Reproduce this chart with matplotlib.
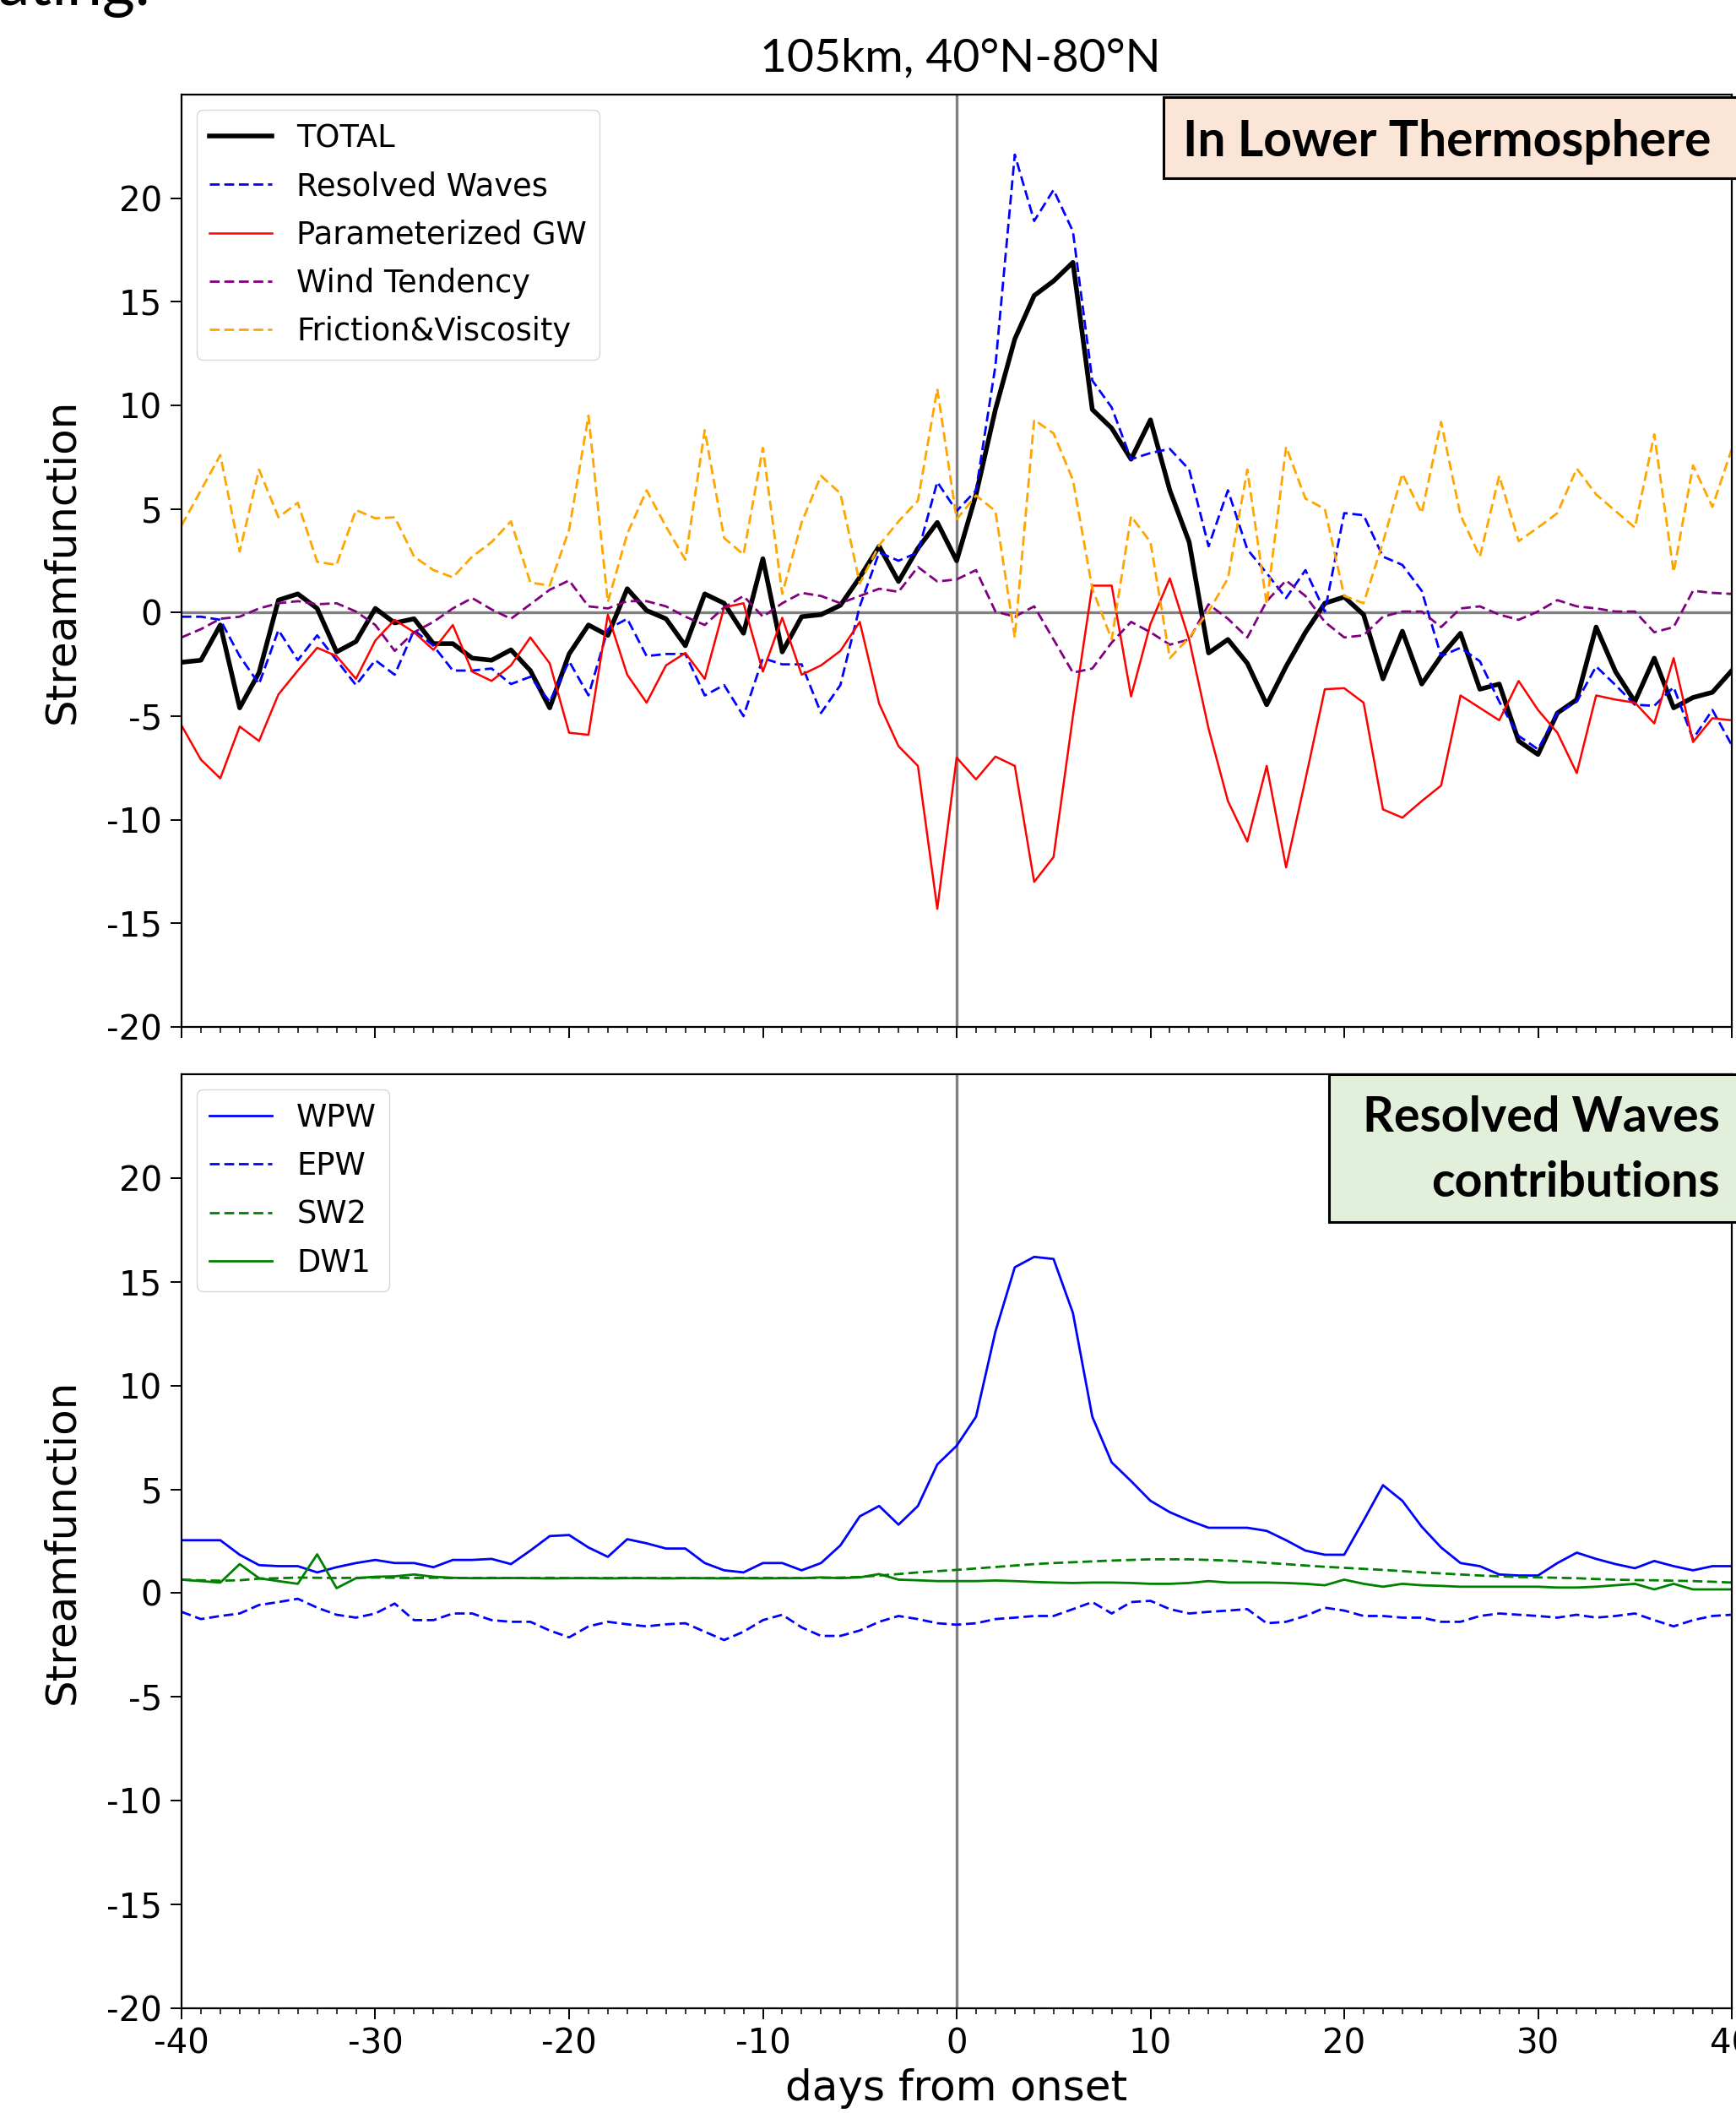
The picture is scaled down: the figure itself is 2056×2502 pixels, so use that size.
import matplotlib
matplotlib.use('Agg')
import matplotlib.pyplot as plt
import numpy as np
from matplotlib.patches import Rectangle
from matplotlib.ticker import MultipleLocator

plt.rcParams['axes.unicode_minus'] = False

days = np.arange(-40, 41)

# upper panel: 105km, 40N-80N
total = [-2.4, -2.3, -0.6, -4.6, -2.9, 0.6, 0.9, 0.2, -1.9, -1.4, 0.2, -0.5, -0.3, -1.5, -1.5, -2.2, -2.3, -1.8, -2.8, -4.6, -2.0,
         -0.6, -1.1, 1.15, 0.1, -0.3, -1.6, 0.9, 0.45, -1.0, 2.6, -1.9, -0.2, -0.1, 0.35, 1.7, 3.2, 1.5, 3.1, 4.35, 2.5,
         5.7, 9.8, 13.2, 15.3, 16.0, 16.9, 9.8, 8.9, 7.4, 9.3, 5.9, 3.4, -1.95, -1.3, -2.45, -4.45, -2.6, -0.95, 0.45, 0.75,
         -0.1, -3.2, -0.9, -3.45, -2.1, -1.0, -3.7, -3.45, -6.2, -6.85, -4.85, -4.2, -0.7, -2.85, -4.3, -2.2, -4.6, -4.1, -3.85, -2.8]
resolved = [-0.2, -0.2, -0.35, -2.1, -3.45, -0.85, -2.3, -1.1, -2.3, -3.5, -2.3, -3.0, -0.85, -1.6, -2.8, -2.8, -2.7, -3.45, -3.1, -4.3, -2.35,
            -4.0, -0.8, -0.3, -2.1, -2.0, -2.0, -4.0, -3.5, -5.0, -2.2, -2.5, -2.5, -4.85, -3.5, 0.3, 2.9, 2.5, 2.9, 6.3, 4.9,
            5.9, 11.9, 22.1, 18.9, 20.4, 18.4, 11.2, 9.9, 7.4, 7.7, 7.9, 6.9, 3.2, 5.9, 3.05, 1.9, 0.7, 2.05, 0.05, 4.8,
            4.7, 2.7, 2.3, 1.05, -2.1, -1.7, -2.35, -4.3, -5.95, -6.6, -4.85, -4.3, -2.6, -3.5, -4.45, -4.5, -3.6, -6.1, -4.7, -6.4]
param_gw = [-5.45, -7.1, -8.0, -5.5, -6.2, -3.95, -2.8, -1.7, -2.1, -3.2, -1.35, -0.35, -0.95, -1.8, -0.6, -2.85, -3.3, -2.55, -1.2, -2.45, -5.8,
            -5.9, -0.1, -3.0, -4.35, -2.55, -1.95, -3.2, 0.25, 0.45, -2.85, -0.25, -3.0, -2.55, -1.85, -0.45, -4.4, -6.45, -7.4, -14.3, -7.0,
            -8.05, -6.95, -7.4, -13.0, -11.8, -5.0, 1.3, 1.3, -4.05, -0.55, 1.65, -1.3, -5.6, -9.1, -11.05, -7.4, -12.3, -8.05, -3.7, -3.65,
            -4.35, -9.5, -9.9, -9.1, -8.35, -4.0, -4.6, -5.2, -3.3, -4.7, -5.8, -7.75, -4.0, -4.2, -4.35, -5.35, -2.2, -6.25, -5.1, -5.2]
wind_tend = [-1.2, -0.8, -0.3, -0.2, 0.2, 0.45, 0.55, 0.4, 0.45, 0.05, -0.6, -1.85, -0.95, -0.45, 0.2, 0.7, 0.15, -0.3, 0.4, 1.1, 1.55,
             0.3, 0.2, 0.55, 0.55, 0.3, -0.2, -0.6, 0.25, 0.8, -0.2, 0.45, 0.95, 0.8, 0.45, 0.8, 1.15, 1.0, 2.2, 1.5, 1.6,
             2.05, 0.05, -0.2, 0.3, -1.3, -2.9, -2.7, -1.45, -0.45, -0.95, -1.55, -1.3, 0.4, -0.3, -1.2, 0.55, 1.55, 0.8, -0.45, -1.2,
             -1.1, -0.2, 0.05, 0.05, -0.7, 0.2, 0.3, -0.1, -0.35, 0.05, 0.6, 0.3, 0.2, 0.05, 0.05, -0.95, -0.7, 1.05, 0.95, 0.9]
friction = [4.2, 5.9, 7.6, 2.95, 6.9, 4.6, 5.3, 2.45, 2.3, 4.95, 4.55, 4.6, 2.7, 2.05, 1.7, 2.7, 3.4, 4.4, 1.45, 1.3, 4.0,
            9.5, 0.5, 3.8, 5.9, 4.15, 2.55, 8.8, 3.6, 2.8, 7.95, 0.9, 4.35, 6.6, 5.75, 1.4, 3.25, 4.4, 5.4, 10.8, 4.5,
            5.65, 4.9, -1.2, 9.3, 8.65, 6.4, 1.15, -1.3, 4.65, 3.4, -2.2, -1.2, 0.05, 1.65, 6.9, 0.4, 8.0, 5.5, 5.0, 0.8,
            0.45, 3.4, 6.7, 4.8, 9.2, 4.7, 2.7, 6.6, 3.45, 4.1, 4.8, 6.95, 5.7, 4.9, 4.1, 8.6, 1.95, 7.1, 5.1, 7.9]

# lower panel: resolved wave components
wpw = [2.55, 2.55, 2.55, 1.85, 1.35, 1.3, 1.3, 1.0, 1.25, 1.45, 1.6, 1.45, 1.45, 1.25, 1.6, 1.6, 1.65, 1.4, 2.05, 2.75, 2.8,
       2.2, 1.75, 2.6, 2.4, 2.15, 2.15, 1.45, 1.1, 1.0, 1.45, 1.45, 1.1, 1.45, 2.3, 3.7, 4.2, 3.3, 4.2, 6.2, 7.1,
       8.5, 12.6, 15.7, 16.2, 16.1, 13.5, 8.5, 6.3, 5.4, 4.45, 3.9, 3.5, 3.15, 3.15, 3.15, 3.0, 2.55, 2.05, 1.85, 1.85,
       3.5, 5.2, 4.45, 3.2, 2.2, 1.45, 1.3, 0.9, 0.85, 0.85, 1.45, 1.95, 1.65, 1.4, 1.2, 1.55, 1.3, 1.1, 1.3, 1.3]
epw = [-0.9, -1.25, -1.1, -0.98, -0.57, -0.43, -0.27, -0.7, -1.04, -1.18, -0.98, -0.5, -1.3, -1.3, -0.98, -0.98, -1.3, -1.38, -1.38, -1.8, -2.13,
       -1.6, -1.38, -1.5, -1.6, -1.5, -1.45, -1.86, -2.26, -1.86, -1.3, -1.04, -1.65, -2.06, -2.06, -1.8, -1.38, -1.1, -1.25, -1.45, -1.52,
       -1.45, -1.25, -1.18, -1.1, -1.1, -0.77, -0.43, -0.98, -0.43, -0.37, -0.77, -0.98, -0.9, -0.84, -0.77, -1.45, -1.38, -1.1, -0.7, -0.84,
       -1.1, -1.1, -1.18, -1.18, -1.38, -1.38, -1.1, -0.98, -1.04, -1.1, -1.18, -1.04, -1.18, -1.1, -0.98, -1.3, -1.6, -1.3, -1.1, -1.04]
sw2 = [0.65, 0.62, 0.6, 0.62, 0.7, 0.72, 0.75, 0.74, 0.73, 0.74, 0.75, 0.74, 0.73, 0.74, 0.73, 0.73, 0.74, 0.73, 0.73, 0.74, 0.73,
       0.73, 0.73, 0.74, 0.73, 0.73, 0.73, 0.72, 0.73, 0.73, 0.74, 0.73, 0.73, 0.74, 0.75, 0.78, 0.85, 0.92, 1.0, 1.06, 1.12,
       1.19, 1.26, 1.33, 1.4, 1.45, 1.49, 1.53, 1.57, 1.6, 1.63, 1.63, 1.63, 1.6, 1.57, 1.52, 1.46, 1.4, 1.33, 1.27, 1.22,
       1.17, 1.12, 1.06, 1.0, 0.95, 0.9, 0.85, 0.81, 0.78, 0.76, 0.74, 0.72, 0.68, 0.65, 0.63, 0.62, 0.6, 0.58, 0.55, 0.51]
dw1 = [0.65, 0.58, 0.51, 1.4, 0.72, 0.58, 0.45, 1.87, 0.24, 0.72, 0.79, 0.81, 0.9, 0.79, 0.74, 0.72, 0.72, 0.73, 0.72, 0.71, 0.72,
       0.72, 0.71, 0.72, 0.72, 0.71, 0.72, 0.72, 0.71, 0.72, 0.71, 0.72, 0.72, 0.76, 0.72, 0.76, 0.92, 0.65, 0.62, 0.58, 0.58,
       0.58, 0.61, 0.58, 0.54, 0.51, 0.49, 0.51, 0.51, 0.49, 0.45, 0.45, 0.49, 0.58, 0.51, 0.51, 0.51, 0.49, 0.45, 0.38, 0.65,
       0.45, 0.31, 0.45, 0.38, 0.35, 0.31, 0.31, 0.31, 0.31, 0.31, 0.27, 0.27, 0.31, 0.38, 0.45, 0.18, 0.45, 0.18, 0.18, 0.18]

yticks = list(range(-20, 21, 5))
dash = (0, (4.2, 2.0))

W, H = 2056, 2502
fig = plt.figure(figsize=(W / 100, H / 100), dpi=100)


def fx(px):
    return px / W


def fy(py):
    return 1 - py / H


ax1 = fig.add_axes([fx(215), fy(1216), fx(2051) - fx(215), fy(112) - fy(1216)])
ax2 = fig.add_axes([fx(215), fy(2378), fx(2051) - fx(215), fy(1272) - fy(2378)])

for ax in (ax1, ax2):
    ax.set_xlim(-40, 40)
    ax.set_ylim(-20, 25)
    ax.set_yticks(yticks)
    ax.xaxis.set_major_locator(MultipleLocator(10))
    ax.xaxis.set_minor_locator(MultipleLocator(1))
    ax.tick_params(which='major', length=9.5, width=1.4, labelsize=29, pad=7)
    ax.tick_params(which='minor', length=5, width=1.1)
    for s in ax.spines.values():
        s.set_linewidth(1.6)
    ax.set_ylabel('Streamfunction', fontsize=36)
    ax.yaxis.set_label_coords(-0.064, 0.5)
    ax.axvline(0, color='grey', lw=2.4, zorder=1)

ax1.tick_params(axis='x', labelbottom=False)
ax1.axhline(0, color='grey', lw=2.4, zorder=1)

ax1.plot(days, total, color='black', lw=4.0, label='TOTAL')
ax1.plot(days, resolved, color='blue', lw=2.0, ls=dash, label='Resolved Waves')
ax1.plot(days, param_gw, color='red', lw=1.8, label='Parameterized GW')
ax1.plot(days, wind_tend, color='purple', lw=2.0, ls=dash, label='Wind Tendency')
ax1.plot(days, friction, color='orange', lw=2.0, ls=dash, label='Friction&Viscosity')
ax1.legend(loc='upper left', fontsize=26.5, labelspacing=0.55)

ax2.plot(days, wpw, color='blue', lw=2.0, label='WPW')
ax2.plot(days, epw, color='blue', lw=2.0, ls=dash, label='EPW')
ax2.plot(days, sw2, color='green', lw=2.0, ls=dash, label='SW2')
ax2.plot(days, dw1, color='green', lw=2.0, label='DW1')
ax2.legend(loc='upper left', fontsize=26.5, labelspacing=0.55)

ax2.set_xlabel('days from onset', fontsize=36)
ax2.xaxis.set_label_coords(0.5, -0.064)

renderer = fig.canvas.get_renderer()


def fit(t, width_px):
    w = t.get_window_extent(renderer=renderer).width
    t.set_fontsize(t.get_fontsize() * width_px / w)


# slide texts around the chart
t = fig.text(fx(178), fy(6), 'ating.', fontsize=54, family='Lato', ha='right', va='baseline')
t = fig.text(fx(1137), fy(85), '105km, 40°N-80°N', fontsize=40, family='Lato', ha='center', va='baseline')
fit(t, 476)

fig.add_artist(Rectangle((fx(1378), fy(211)), fx(760), fy(115) - fy(211), transform=fig.transFigure,
                         facecolor='#FBE5D6', edgecolor='black', lw=2.2, zorder=5))
t = fig.text(fx(1401), fy(185), 'In Lower Thermosphere', fontsize=40, family='Lato', weight='bold',
             ha='left', va='baseline', zorder=6)
fit(t, 626)

fig.add_artist(Rectangle((fx(1574), fy(1447)), fx(560), fy(1272) - fy(1447), transform=fig.transFigure,
                         facecolor='#E2EFDA', edgecolor='black', lw=2.2, zorder=5))
t1 = fig.text(fx(2037), fy(1340), 'Resolved Waves', fontsize=40, family='Lato', weight='bold',
              ha='right', va='baseline', zorder=6)
fit(t1, 422)
fig.text(fx(2037), fy(1417), 'contributions', fontsize=t1.get_fontsize(), family='Lato', weight='bold',
         ha='right', va='baseline', zorder=6)

fig.savefig('out.png', dpi=100)
